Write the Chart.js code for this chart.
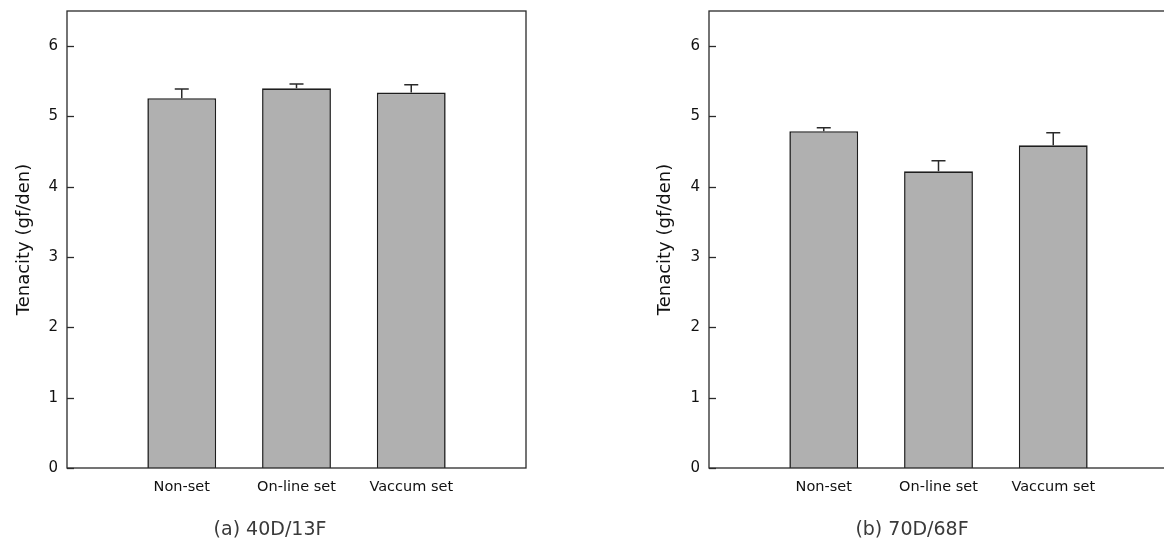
<!DOCTYPE html>
<html>
<head>
<meta charset="utf-8">
<script src="https://cdn.jsdelivr.net/npm/chart.js@4/dist/chart.umd.min.js"></script>
<style>
  html, body { margin: 0; padding: 0; background: #fff; overflow: hidden; }
  body { width: 1164px; height: 545px; position: relative; }
  .panel { position: absolute; top: 0; height: 545px; }
  .caption {
    position: absolute; top: 517px; width: 200px; text-align: center;
    font-family: "DejaVu Sans", sans-serif; font-size: 19px; color: #3a3a3a;
  }
</style>
</head>
<body>
<div class="panel" style="left:0; width:560px;"><canvas id="chartA"></canvas></div>
<div class="panel" style="left:640px; width:560px;"><canvas id="chartB"></canvas></div>
<div class="caption" style="left:170px;">(a) 40D/13F</div>
<div class="caption" style="left:812px;">(b) 70D/68F</div>
<script>
// categories and values
const categories = ['Non-set', 'On-line set', 'Vaccum set'];
const tenacityA = [5.26, 5.40, 5.34];   // (a) 40D/13F
const errorA = [0.13, 0.06, 0.11];
const tenacityB = [4.79, 4.22, 4.59];   // (b) 70D/68F
const errorB = [0.05, 0.15, 0.18];
const yTicks = [0, 1, 2, 3, 4, 5, 6];

const font = 'DejaVu Sans';

// draws the box round the plot area and the inward y ticks
const framePlugin = {
  id: 'frame',
  afterDraw(chart) {
    const { ctx, chartArea: a } = chart;
    const y = chart.scales.y;
    ctx.save();
    ctx.strokeStyle = '#2a2a2a';
    ctx.lineWidth = 1.3;
    ctx.strokeRect(a.left, a.top, a.right - a.left, a.bottom - a.top);
    yTicks.forEach(v => {
      const py = Math.round(y.getPixelForValue(v)) + 0.5;
      ctx.beginPath();
      ctx.moveTo(a.left, py);
      ctx.lineTo(a.left + 7, py);
      ctx.stroke();
    });
    ctx.restore();
  }
};

// upper error bars with a cap
const errorBarPlugin = {
  id: 'errorBars',
  afterDatasetsDraw(chart) {
    const { ctx } = chart;
    const y = chart.scales.y;
    const ds = chart.data.datasets[0];
    const meta = chart.getDatasetMeta(0);
    ctx.save();
    ctx.strokeStyle = '#2a2a2a';
    ctx.lineWidth = 1.5;
    meta.data.forEach((bar, i) => {
      const v = ds.data[i];
      const e = ds.errors[i];
      if (v == null || e == null) return;
      const top = y.getPixelForValue(v + e);
      ctx.beginPath();
      ctx.moveTo(bar.x, bar.y);
      ctx.lineTo(bar.x, top);
      ctx.moveTo(bar.x - 7, top);
      ctx.lineTo(bar.x + 7, top);
      ctx.stroke();
    });
    ctx.restore();
  }
};

function makeChart(id, values, errors, yAxisWidth, rightPad, titlePad) {
  const ctx = document.getElementById(id).getContext('2d');
  // blank slot at each end so the three bars sit at 1/4, 2/4, 3/4 of the width
  const labels = [''].concat(categories, ['']);
  return new Chart(ctx, {
    type: 'bar',
    data: {
      labels: labels,
      datasets: [{
        data: [null].concat(values, [null]),
        errors: [null].concat(errors, [null]),
        backgroundColor: '#b0b0b0',
        borderColor: '#1e1e1e',
        borderWidth: 1.6,
        borderSkipped: 'bottom',
        barPercentage: 0.6,
        categoryPercentage: 1.0
      }]
    },
    options: {
      responsive: true,
      maintainAspectRatio: false,
      animation: false,
      layout: { padding: { top: 11, right: rightPad, bottom: 0, left: 0 } },
      plugins: { legend: { display: false }, tooltip: { enabled: false } },
      scales: {
        x: {
          type: 'category',
          offset: false,
          grid: { display: false, drawTicks: false },
          border: { display: false },
          ticks: {
            color: '#111', padding: 11, maxRotation: 0, autoSkip: false,
            font: { family: font, size: 14.5 }
          },
          afterFit(scale) {
            scale.height = 77;
            scale.paddingLeft = 0;
            scale.paddingRight = 0;
          }
        },
        y: {
          min: 0,
          max: 6.5,
          grid: { display: false, drawTicks: false },
          border: { display: false },
          ticks: {
            stepSize: 1, includeBounds: false, color: '#111', padding: 9,
            font: { family: font, size: 15 }
          },
          title: {
            display: true,
            text: 'Tenacity (gf/den)',
            color: '#111',
            padding: { top: titlePad, bottom: 0 },
            font: { family: font, size: 18 }
          },
          afterFit(scale) {
            scale.width = yAxisWidth;
            scale.paddingTop = 0;
            scale.paddingBottom = 0;
          }
        }
      }
    },
    plugins: [framePlugin, errorBarPlugin]
  });
}

makeChart('chartA', tenacityA, errorA, 67, 34, 14);
makeChart('chartB', tenacityB, errorB, 69, 32, 15);
</script>
</body>
</html>
